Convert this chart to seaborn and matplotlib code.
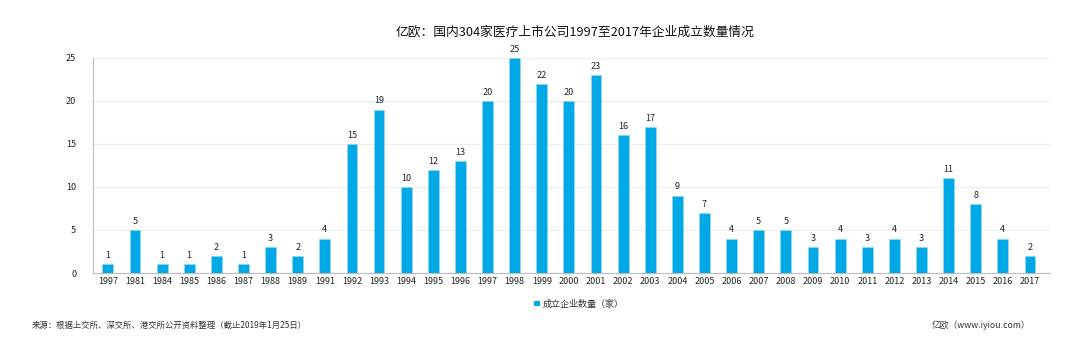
import matplotlib
matplotlib.use("Agg")
import matplotlib.pyplot as plt
import seaborn as sns
import pandas as pd
from matplotlib.patches import Patch

years = ["1997", "1981", "1984", "1985", "1986", "1987", "1988", "1989", "1991",
         "1992", "1993", "1994", "1995", "1996", "1997", "1998", "1999", "2000",
         "2001", "2002", "2003", "2004", "2005", "2006", "2007", "2008", "2009",
         "2010", "2011", "2012", "2013", "2014", "2015", "2016", "2017"]
counts = [1, 5, 1, 1, 2, 1, 3, 2, 4,
          15, 19, 10, 12, 13, 20, 25, 22, 20,
          23, 16, 17, 9, 7, 4, 5, 5, 3,
          4, 3, 4, 3, 11, 8, 4, 2]
series_name = "成立企业数量（家）"
title = "亿欧：国内304家医疗上市公司1997至2017年企业成立数量情况"
source_note = "来源：根据上交所、深交所、港交所公开资料整理（截止2019年1月25日）"
brand_note = "亿欧（www.iyiou.com）"

BAR = "#00A9E6"
BAR_EDGE = "#8fd8f4"

sns.set_theme(style="white")
plt.rcParams["font.family"] = ["Noto Sans CJK SC", "DejaVu Sans"]

# positional index keeps the repeated year as its own bar
df = pd.DataFrame({"pos": range(len(years)), "count": counts})

fig = plt.figure(figsize=(10.66, 3.41), dpi=100)
ax = fig.add_axes([0.0872, 0.1994, 0.8978, 0.6306])

sns.barplot(data=df, x="pos", y="count", color=BAR, width=0.4,
            saturation=1, edgecolor=BAR_EDGE, linewidth=0.5, ax=ax, zorder=3)

ax.set_xticks(range(len(years)))
ax.set_xticklabels(years, fontsize=6.5, color="#222222")
ax.set_ylim(0, 25)
ax.set_yticks([0, 5, 10, 15, 20, 25])
ax.tick_params(axis="y", labelsize=6.5, colors="#222222", length=0, pad=12)
ax.tick_params(axis="x", length=0, pad=3)
ax.set_xlim(-0.55, len(years) - 0.26)
ax.set_xlabel("")
ax.set_ylabel("")
ax.yaxis.grid(True, color="#ececec", linewidth=0.8, zorder=0)
for side in ("top", "right"):
    ax.spines[side].set_visible(False)
for side in ("left", "bottom"):
    ax.spines[side].set_color("#bdbdbd")
    ax.spines[side].set_linewidth(0.8)

for container in ax.containers:
    ax.bar_label(container, labels=[str(v) for v in counts], padding=3,
                 fontsize=6.5, color="#222222")

fig.text(0.539, 0.905, title, ha="center", va="center", fontsize=9.2,
         color="#111111")

handle = Patch(facecolor=BAR, edgecolor="none")
fig.legend([handle], [series_name], loc="center", bbox_to_anchor=(0.543, 0.108),
           frameon=False, fontsize=6.5, handlelength=0.6, handleheight=0.6,
           handletextpad=0.3, labelcolor="#333333")

fig.text(0.03, 0.047, source_note, ha="left", va="center", fontsize=6.0, color="#333333")
fig.text(0.967, 0.047, brand_note, ha="right", va="center", fontsize=6.3, color="#333333")

fig.savefig("out.png", dpi=100)
